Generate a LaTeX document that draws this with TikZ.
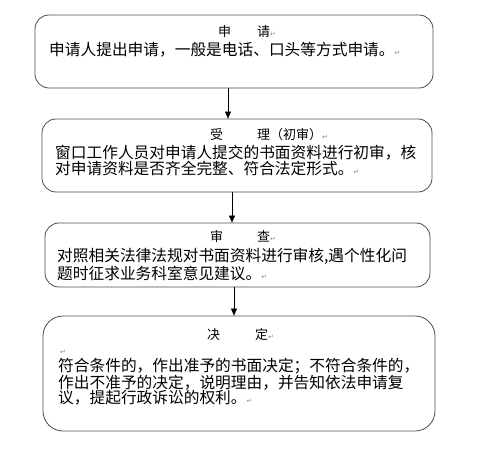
\documentclass[tikz,border=0pt]{standalone}
\usepackage{fontspec}
\newfontfamily\cjk{Noto Sans CJK SC}
\newfontfamily\markfont{DejaVu Sans}
\usetikzlibrary{arrows.meta}
\newcommand{\pmark}{{\markfont\fontsize{7pt}{7pt}\selectfont\textcolor{black!45}{↵}}}

\begin{document}
\begin{tikzpicture}[x=1pt, y=-1pt, >={Triangle[length=7pt,width=6pt]}, every node/.style={inner sep=0pt}]
\tikzstyle{block}=[rectangle, draw=black!70, line width=0.8pt, rounded corners=14pt]
\tikzstyle{title}=[anchor=west, font=\cjk\fontsize{13pt}{13pt}\selectfont]
\tikzstyle{body}=[anchor=west, align=left, font=\cjk\fontsize{15.7pt}{15.5pt}\selectfont]
\useasboundingbox (0,0) rectangle (495,449);
% boxes
\node[block, minimum width=398pt, minimum height=73pt] (apply) at (234,51.5) {};
\node[block, minimum width=390pt, minimum height=73pt] (accept) at (237,155.5) {};
\node[block, minimum width=385pt, minimum height=64pt] (review) at (237.5,255) {};
\node[block, minimum width=392pt, minimum height=115pt, rounded corners=20pt] (decide) at (239,373.5) {};
% texts
\node[title] (applyt) at (218,32) {申\hspace{26pt}请\pmark};
\node[body] (applyb) at (49,50) {申请人提出申请，一般是电话、口头等方式申请。\pmark};
\node[title] (acceptt) at (210,135) {受\hspace{34pt}理（初审）\pmark};
\node[body] (acceptb) at (55,160.5) {窗口工作人员对申请人提交的书面资料进行初审，核\\对申请资料是否齐全完整、符合法定形式。\pmark};
\node[title] (reviewt) at (210,237) {审\hspace{34pt}查\pmark};
\node[body] (reviewb) at (57,264.5) {对照相关法律法规对书面资料进行审核,遇个性化问\\题时征求业务科室意见建议。\pmark};
\node[title] (decidet) at (207,335) {决\hspace{35pt}定\pmark};
\node[anchor=west] (decidem) at (60,352) {\pmark};
\node[body] (decideb) at (58,382) {符合条件的，作出准予的书面决定；不符合条件的，\\作出不准予的决定，说明理由，并告知依法申请复\\议，提起行政诉讼的权利。\pmark};
% arrows
\draw[->] ([xshift=-6pt]apply.south) -- ([xshift=-6pt]apply.south |- accept.north);
\draw[->] ([xshift=-5pt]accept.south) -- ([xshift=-5pt]accept.south |- review.north);
\draw[->] ([xshift=-3.5pt]review.south) -- ([xshift=-3.5pt]review.south |- decide.north);
\end{tikzpicture}
\end{document}
